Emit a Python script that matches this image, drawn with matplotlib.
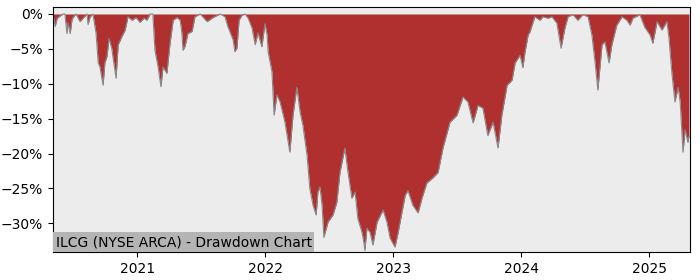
import pandas as pd
import matplotlib
matplotlib.use('Agg')
import matplotlib.pyplot as plt
import matplotlib.dates as mdates
import matplotlib.ticker as mticker

TITLE = 'ILCG (NYSE ARCA) - Drawdown Chart'

# drawdown from running peak, in percent
dates = [
    '2020-05-05', '2020-05-11', '2020-05-17', '2020-05-25', '2020-06-03', '2020-06-08',
    '2020-06-14', '2020-06-17', '2020-06-23', '2020-06-28', '2020-07-01', '2020-07-10',
    '2020-07-21', '2020-07-30', '2020-08-10', '2020-08-13', '2020-08-19', '2020-08-27',
    '2020-09-05', '2020-09-11', '2020-09-16', '2020-09-25', '2020-09-30', '2020-10-06',
    '2020-10-12', '2020-10-20', '2020-10-23', '2020-11-01', '2020-11-07', '2020-11-18',
    '2020-11-27', '2020-12-05', '2020-12-17', '2020-12-28', '2021-01-08', '2021-01-20',
    '2021-01-28', '2021-02-06', '2021-02-14', '2021-02-20', '2021-03-01', '2021-03-09',
    '2021-03-15', '2021-03-26', '2021-04-04', '2021-04-13', '2021-04-24', '2021-05-03',
    '2021-05-08', '2021-05-11', '2021-05-17', '2021-05-25', '2021-06-06', '2021-06-14',
    '2021-06-29', '2021-07-19', '2021-08-05', '2021-08-25', '2021-09-08', '2021-09-16',
    '2021-10-01', '2021-10-06', '2021-10-12', '2021-10-18', '2021-10-26', '2021-11-04',
    '2021-11-13', '2021-11-24', '2021-12-03', '2021-12-11', '2021-12-22', '2021-12-31',
    '2022-01-06', '2022-01-09', '2022-01-20', '2022-01-26', '2022-02-03', '2022-02-12',
    '2022-02-26', '2022-03-12', '2022-03-21', '2022-04-01', '2022-04-10', '2022-04-18',
    '2022-04-30', '2022-05-08', '2022-05-17', '2022-05-26', '2022-05-31', '2022-06-06',
    '2022-06-12', '2022-06-17', '2022-06-29', '2022-07-13', '2022-07-24', '2022-08-02',
    '2022-08-16', '2022-08-25', '2022-09-05', '2022-09-14', '2022-09-22', '2022-10-04',
    '2022-10-10', '2022-10-12', '2022-10-18', '2022-10-27', '2022-11-04', '2022-11-16',
    '2022-12-03', '2022-12-14', '2022-12-23', '2023-01-06', '2023-01-15', '2023-01-26',
    '2023-02-04', '2023-02-12', '2023-02-26', '2023-03-13', '2023-03-24', '2023-04-07',
    '2023-04-24', '2023-05-09', '2023-05-23', '2023-06-12', '2023-07-02', '2023-07-19',
    '2023-08-02', '2023-08-17', '2023-08-31', '2023-09-14', '2023-09-28', '2023-10-13',
    '2023-10-27', '2023-11-07', '2023-11-22', '2023-12-06', '2023-12-15', '2023-12-29',
    '2024-01-06', '2024-01-12', '2024-01-21', '2024-01-26', '2024-02-09', '2024-02-24',
    '2024-03-03', '2024-03-18', '2024-03-29', '2024-04-12', '2024-04-24', '2024-05-05',
    '2024-05-14', '2024-05-28', '2024-06-11', '2024-06-25', '2024-07-10', '2024-07-21',
    '2024-07-30', '2024-08-07', '2024-08-19', '2024-08-27', '2024-09-08', '2024-09-16',
    '2024-09-30', '2024-10-15', '2024-10-29', '2024-11-07', '2024-11-15', '2024-12-05',
    '2024-12-19', '2025-01-03', '2025-01-11', '2025-01-23', '2025-02-06', '2025-02-20',
    '2025-02-26', '2025-03-06', '2025-03-15', '2025-03-24', '2025-03-30', '2025-04-07',
    '2025-04-13', '2025-04-21', '2025-04-24',
]
drawdown = [
    0.0, -1.8, -0.6, -0.3, 0.0, 0.0,
    -2.8, -1.3, -2.8, -0.9, -0.5, 0.0,
    -1.1, -0.6, 0.0, -1.5, -0.4, 0.0,
    -2.8, -7.0, -7.6, -10.2, -7.0, -6.1,
    -3.5, -5.0, -6.1, -9.2, -4.4, -3.2,
    -2.3, -0.4, -0.9, -0.5, -1.2, -0.6,
    -0.9, 0.0, 0.0, -5.2, -7.6, -10.4,
    -7.6, -8.5, -4.2, -0.9, -0.5, -0.9,
    -2.8, -5.2, -4.6, -2.8, -2.5, -0.4,
    0.0, -1.1, -0.5, 0.0, -0.4, -1.8,
    -3.7, -5.4, -4.9, -0.9, -0.2, 0.0,
    -0.6, -2.0, -4.4, -2.7, -4.7, -1.4,
    -3.0, -5.4, -8.3, -14.5, -11.6, -12.6,
    -15.5, -19.8, -14.5, -10.5, -14.0, -15.9,
    -20.2, -25.0, -27.4, -28.8, -25.5, -24.8,
    -27.4, -32.0, -29.8, -28.8, -27.0, -22.7,
    -19.2, -22.7, -26.4, -25.5, -29.3, -31.3,
    -33.0, -33.9, -30.7, -31.3, -33.1, -29.8,
    -28.1, -29.8, -32.1, -33.4, -31.3, -28.4,
    -26.0, -25.3, -27.4, -28.5, -26.4, -24.2,
    -23.5, -22.7, -19.2, -15.5, -14.5, -11.9,
    -12.6, -15.6, -13.1, -13.5, -17.4, -15.5,
    -19.2, -14.5, -10.2, -9.5, -7.0, -5.9,
    -7.7, -5.5, -3.0, -2.6, -0.4, -0.9,
    -0.4, -0.6, -0.4, -1.3, -4.9, -2.0,
    -0.4, -0.1, -0.9, -0.1, -0.4, -3.0,
    -6.9, -10.9, -4.4, -4.0, -7.0, -4.4,
    -1.6, -0.4, -0.9, -1.6, -0.6, -0.1,
    -1.9, -3.0, -4.2, -1.1, -2.3, -1.1,
    -3.4, -8.3, -12.6, -10.5, -12.6, -19.8,
    -16.6, -18.4, -17.5,
]

x = pd.to_datetime(dates)

fig = plt.figure(figsize=(7, 2.8), dpi=100)
ax = fig.add_axes([0.0757, 0.1, 0.91, 0.875])
ax.set_facecolor('#ececec')

ax.fill_between(x, drawdown, 0, color='#b03030', linewidth=0)
ax.plot(x, drawdown, color='#888888', linewidth=0.8)

ax.set_xlim(x[0], pd.Timestamp('2025-04-27'))
ax.set_ylim(-34.1, 1.0)

ax.xaxis.set_major_locator(mdates.YearLocator())
ax.xaxis.set_major_formatter(mdates.DateFormatter('%Y'))
ax.yaxis.set_major_locator(mticker.MultipleLocator(5))
ax.yaxis.set_major_formatter(mticker.PercentFormatter(xmax=100, decimals=0))

ax.text(0.004, 0.012, TITLE, transform=ax.transAxes, fontsize=10,
        ha='left', va='bottom',
        bbox=dict(facecolor='#b4b4b4', edgecolor='none', pad=2))

fig.savefig('out.png', dpi=100)
